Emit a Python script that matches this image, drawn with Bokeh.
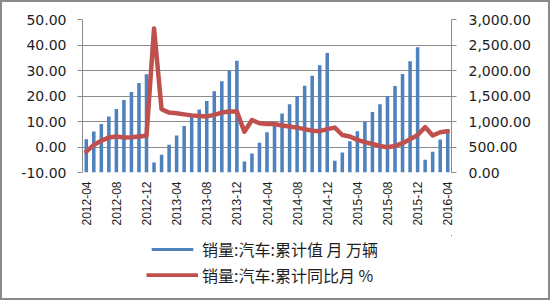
import math
from bokeh.plotting import figure
from bokeh.layouts import column
from bokeh.models import (Range1d, LinearAxis, FixedTicker, SingleIntervalTicker,
                          Legend, LegendItem, NumeralTickFormatter, ColumnDataSource)
from bokeh.embed import file_html
from bokeh.resources import INLINE

months = ["2012-04", "2012-05", "2012-06", "2012-07", "2012-08", "2012-09", "2012-10", "2012-11", "2012-12",
          "2013-01", "2013-02", "2013-03", "2013-04", "2013-05", "2013-06", "2013-07", "2013-08", "2013-09",
          "2013-10", "2013-11", "2013-12",
          "2014-01", "2014-02", "2014-03", "2014-04", "2014-05", "2014-06", "2014-07", "2014-08", "2014-09",
          "2014-10", "2014-11", "2014-12",
          "2015-01", "2015-02", "2015-03", "2015-04", "2015-05", "2015-06", "2015-07", "2015-08", "2015-09",
          "2015-10", "2015-11", "2015-12",
          "2016-01", "2016-02", "2016-03", "2016-04"]

tick_labels = ["2012-04", "2012-08", "2012-12", "2013-04", "2013-08", "2013-12", "2014-04",
               "2014-08", "2014-12", "2015-04", "2015-08", "2015-12", "2016-04"]

# 销量:汽车:累计值 (万辆) - right axis
sales_cum = [654, 802, 953, 1096, 1247, 1423, 1579, 1755, 1925,
             196, 346, 542, 724, 914, 1096, 1233, 1400, 1593, 1788, 1996, 2192,
             215, 372, 581, 790, 939, 1155, 1338, 1501, 1703, 1898, 2101, 2342,
             229, 391, 614, 810, 992, 1188, 1338, 1501, 1697, 1932, 2180, 2454,
             248, 405, 646, 855]

# 销量:汽车:累计同比 (%) - left axis
sales_yoy = [-1.8, 0.8, 2.5, 3.7, 4.1, 3.7, 3.8, 4.1, 4.4,
             46.5, 14.8, 13.5, 13.2, 12.8, 12.4, 12.2, 12.0, 12.6, 13.5, 13.9, 13.9,
             6.0, 10.6, 9.3, 9.0, 9.0, 8.4, 8.0, 7.6, 7.0, 6.4, 6.2, 7.0,
             7.6, 4.7, 4.1, 2.8, 1.9, 1.2, 0.4, -0.1, 0.4, 1.5, 3.0, 4.7,
             7.8, 4.5, 5.8, 6.2]

bar_name = "销量:汽车:累计值 月 万辆"
line_name = "销量:汽车:累计同比月 %"

BAR_COLOR = "#4F81BD"
LINE_COLOR = "#C0504D"
GRID = "#8c8c8c"
TXT = "#1e1e1e"

idx = list(range(len(months)))
src = ColumnDataSource(dict(x=idx, month=months, cum=sales_cum, yoy=sales_yoy))

# ---------------- main chart ----------------
p = figure(width=546, height=233, output_backend="svg", toolbar_location=None,
           x_range=Range1d(-0.5, len(months) - 0.5), y_range=Range1d(-10, 50),
           min_border_left=80, min_border_right=97, min_border_top=17, min_border_bottom=63,
           background_fill_color="white", border_fill_color="white")
p.outline_line_color = None
p.extra_y_ranges = {"right": Range1d(0, 3000)}

bars = p.vbar(x="x", top="cum", bottom=0, width=0.47, source=src, y_range_name="right",
              fill_color=BAR_COLOR, line_color=None)
line = p.line(x="x", y="yoy", source=src, line_color=LINE_COLOR, line_width=4.5,
              line_join="round", line_cap="round")

xa = p.xaxis[0]
xa.ticker = FixedTicker(ticks=[months.index(t) for t in tick_labels])
xa.major_label_overrides = {months.index(t): t for t in tick_labels}
xa.major_label_orientation = math.pi / 2
xa.axis_line_color = None
xa.major_tick_line_color = None
xa.minor_tick_line_color = None
xa.major_tick_out = 0
xa.major_tick_in = 0
xa.major_label_standoff = 9
xa.major_label_text_font = "Liberation Sans"
xa.major_label_text_font_size = "12px"
xa.major_label_text_color = TXT

ya = p.yaxis[0]
ya.ticker = SingleIntervalTicker(interval=10)
ya.formatter = NumeralTickFormatter(format="0.00")
ya.axis_line_color = GRID
ya.major_tick_line_color = GRID
ya.minor_tick_line_color = None
ya.major_tick_out = 5
ya.major_tick_in = 0
ya.major_label_standoff = 11
ya.major_label_text_font = "DejaVu Sans"
ya.major_label_text_font_size = "14px"
ya.major_label_text_color = TXT

ra = LinearAxis(y_range_name="right", ticker=SingleIntervalTicker(interval=500),
                formatter=NumeralTickFormatter(format="0,0.00"))
ra.axis_line_color = GRID
ra.major_tick_line_color = GRID
ra.minor_tick_line_color = None
ra.major_tick_out = 5
ra.major_tick_in = 0
ra.major_label_standoff = 12
ra.major_label_text_font = "DejaVu Sans"
ra.major_label_text_font_size = "14px"
ra.major_label_text_color = TXT
p.add_layout(ra, "right")

p.xgrid.visible = False
p.ygrid.grid_line_color = GRID
p.ygrid.grid_line_width = 1

# ---------------- legend strip ----------------
# key renderers share the data source, but the strip's ranges keep them out of view
lg = figure(width=546, height=63, output_backend="svg", toolbar_location=None,
            x_range=Range1d(-1000, -999), y_range=Range1d(-1000, -999),
            x_axis_location=None, y_axis_location=None, min_border=0,
            background_fill_color="white", border_fill_color="white")
lg.outline_line_color = None
lg.grid.visible = False
key_bar = lg.vbar(x="x", top="cum", bottom=0, width=0.45, source=src,
                  fill_color=BAR_COLOR, line_color=None)
key_line = lg.line(x="x", y="yoy", source=src, line_color=LINE_COLOR, line_width=4.5)

legend = Legend(items=[LegendItem(label=bar_name, renderers=[key_bar]),
                       LegendItem(label=line_name, renderers=[key_line])],
                location=(64, 11), orientation="vertical")
legend.padding = 0
legend.margin = 0
legend.spacing = 2
legend.glyph_width = 52
legend.glyph_height = 4
legend.label_height = 22
legend.label_standoff = 4
legend.border_line_color = None
legend.background_fill_alpha = 0
legend.label_text_font = "Noto Sans CJK SC"
legend.label_text_font_size = "16px"
legend.label_text_color = TXT
lg.add_layout(legend, "center")

layout = column(p, lg, spacing=0, width=550, height=300,
                styles={"border": "2px solid #8a8a8a", "box-sizing": "border-box",
                        "background-color": "white"})
open("out.html", "w").write(file_html(layout, INLINE))
